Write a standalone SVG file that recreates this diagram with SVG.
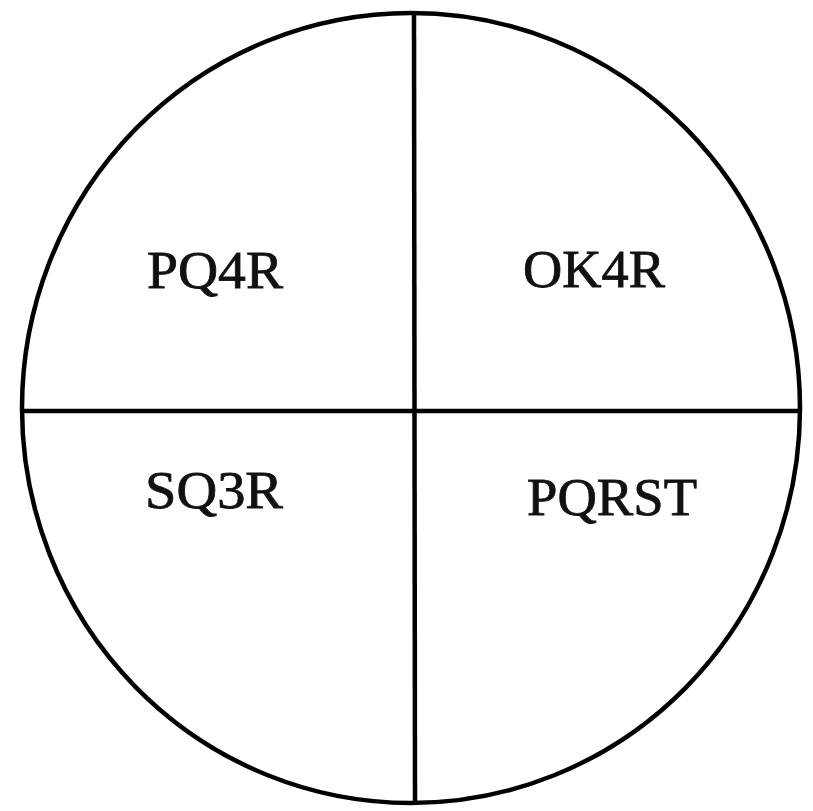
<svg xmlns="http://www.w3.org/2000/svg" width="813" height="811" viewBox="0 0 813 811">
<style>
.s{fill:none;stroke:#000;stroke-width:4.5}
.t{font-family:"Liberation Serif",serif;font-size:53px;fill:#111;stroke:#111;stroke-width:0.8}
</style>
<rect width="813" height="811" fill="#fff"/>
<g id="circle"><ellipse class="s" cx="411" cy="408" rx="389" ry="395"/></g>
<g id="connectors">
<line class="s" x1="414" y1="13" x2="415" y2="803"/>
<line class="s" x1="22" y1="411" x2="800" y2="411"/>
</g>
<g id="pq4r"><text class="t" x="147" y="288" textLength="136" lengthAdjust="spacingAndGlyphs">PQ4R</text></g>
<g id="ok4r"><text class="t" x="523" y="287" textLength="142" lengthAdjust="spacingAndGlyphs">OK4R</text></g>
<g id="sq3r"><text class="t" x="145" y="508" textLength="138" lengthAdjust="spacingAndGlyphs">SQ3R</text></g>
<g id="pqrst"><text class="t" x="527" y="515" textLength="170" lengthAdjust="spacingAndGlyphs">PQRST</text></g>
</svg>
